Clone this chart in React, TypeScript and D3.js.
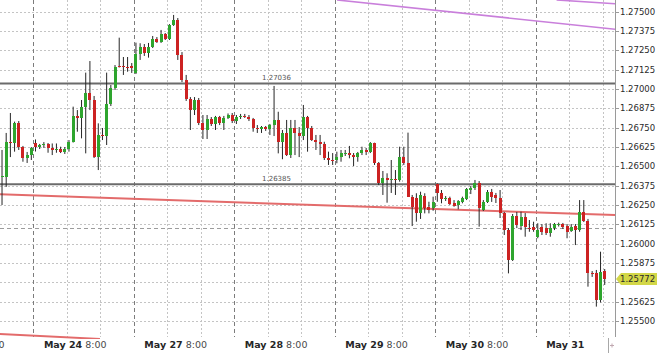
import React from "react";
import * as d3 from "d3";

// GBPUSD-style H1 candles. Bar index 0 = May 24 00:00; the first bars belong to May 23.
const firstBar = -8;

const opens = [
  1.26431, 1.26434, 1.26659, 1.26651, 1.26782, 1.26623, 1.26556, 1.26573,
  1.26648, 1.26623, 1.26635, 1.26645, 1.26621, 1.26606, 1.26615, 1.26595, 1.26610, 1.26659, 1.26826, 1.26811,
  1.26886, 1.26976, 1.26929, 1.26562, 1.26703, 1.26696, 1.26903, 1.27005, 1.27152, 1.27148, 1.27144, 1.27149,
  1.27102, 1.27225, 1.27274, 1.27235, 1.27274, 1.27323, 1.27306, 1.27354, 1.27323, 1.27414, 1.27446, 1.27220,
  1.27058, 1.26934, 1.26864, 1.26929, 1.26778, 1.26735, 1.26804, 1.26772, 1.26817, 1.26782, 1.26811, 1.26832,
  1.26793, 1.26817, 1.26826, 1.26822, 1.26804, 1.26746, 1.26740, 1.26753, 1.26742, 1.26767, 1.26800, 1.26659,
  1.26714, 1.26573, 1.26750, 1.26716, 1.26696, 1.26821, 1.26750, 1.26670, 1.26656, 1.26645, 1.26552, 1.26541,
  1.26541, 1.26562, 1.26584, 1.26588, 1.26573, 1.26562, 1.26584, 1.26606, 1.26595, 1.26649, 1.26520, 1.26390,
  1.26427, 1.26412, 1.26420, 1.26410, 1.26562, 1.26520, 1.26304, 1.26293, 1.26196, 1.26308, 1.26239, 1.26229,
  1.26384, 1.26326, 1.26287, 1.26293, 1.26261, 1.26250, 1.26271, 1.26287, 1.26347, 1.26357, 1.26390, 1.26218,
  1.26271, 1.26336, 1.26315, 1.26293, 1.26196, 1.26088, 1.25894, 1.26179, 1.26114, 1.26174, 1.26103, 1.26108,
  1.26045, 1.26108, 1.26101, 1.26071, 1.26099, 1.26124, 1.26127, 1.26114, 1.26085, 1.26114, 1.26088, 1.26207,
  1.26149, 1.25808, 1.25808, 1.25636, 1.25825,
];

const highs = [
  1.26606, 1.26716, 1.26845, 1.26789, 1.26793, 1.26632, 1.26593, 1.26625,
  1.26674, 1.26645, 1.26657, 1.26651, 1.26648, 1.26648, 1.26627, 1.26625, 1.26670, 1.26886, 1.26864, 1.26929,
  1.27106, 1.27181, 1.26955, 1.26778, 1.26748, 1.27106, 1.27026, 1.27155, 1.27332, 1.27207, 1.27207, 1.27168,
  1.27300, 1.27296, 1.27291, 1.27298, 1.27343, 1.27336, 1.27382, 1.27362, 1.27420, 1.27479, 1.27459, 1.27239,
  1.27091, 1.26948, 1.26948, 1.26942, 1.26832, 1.26832, 1.26819, 1.26826, 1.26826, 1.26826, 1.26842, 1.26845,
  1.26832, 1.26839, 1.26839, 1.26832, 1.26813, 1.26767, 1.26761, 1.26761, 1.26774, 1.27020, 1.26853, 1.26735,
  1.26800, 1.26800, 1.26800, 1.26754, 1.26897, 1.26826, 1.26761, 1.26703, 1.26703, 1.26659, 1.26595, 1.26586,
  1.26595, 1.26606, 1.26606, 1.26632, 1.26586, 1.26593, 1.26627, 1.26619, 1.26657, 1.26653, 1.26528, 1.26470,
  1.26455, 1.26541, 1.26476, 1.26627, 1.26627, 1.26718, 1.26315, 1.26326, 1.26336, 1.26326, 1.26271, 1.26304,
  1.26390, 1.26347, 1.26308, 1.26304, 1.26282, 1.26282, 1.26304, 1.26360, 1.26373, 1.26412, 1.26405, 1.26282,
  1.26347, 1.26354, 1.26328, 1.26347, 1.26205, 1.26101, 1.26192, 1.26205, 1.26207, 1.26198, 1.26153, 1.26142,
  1.26132, 1.26127, 1.26132, 1.26132, 1.26134, 1.26136, 1.26134, 1.26127, 1.26127, 1.26127, 1.26282, 1.26282,
  1.26160, 1.25823, 1.25830, 1.25948, 1.25836,
];

const lows = [
  1.26250, 1.26367, 1.26560, 1.26595, 1.26606, 1.26530, 1.26522, 1.26541,
  1.26596, 1.26612, 1.26619, 1.26588, 1.26573, 1.26588, 1.26586, 1.26580, 1.26595, 1.26654, 1.26724, 1.26681,
  1.26584, 1.26864, 1.26554, 1.26476, 1.26670, 1.26638, 1.26890, 1.26994, 1.27139, 1.27091, 1.27112, 1.27104,
  1.27097, 1.27188, 1.27214, 1.27203, 1.27265, 1.27298, 1.27298, 1.27317, 1.27317, 1.27408, 1.27188, 1.27045,
  1.26923, 1.26735, 1.26832, 1.26767, 1.26677, 1.26677, 1.26761, 1.26735, 1.26767, 1.26735, 1.26806, 1.26780,
  1.26774, 1.26806, 1.26813, 1.26793, 1.26724, 1.26716, 1.26716, 1.26729, 1.26703, 1.26696, 1.26584, 1.26546,
  1.26567, 1.26554, 1.26573, 1.26560, 1.26670, 1.26595, 1.26664, 1.26606, 1.26573, 1.26541, 1.26509, 1.26509,
  1.26520, 1.26530, 1.26567, 1.26552, 1.26502, 1.26530, 1.26573, 1.26573, 1.26586, 1.26509, 1.26379, 1.26315,
  1.26265, 1.26328, 1.26315, 1.26401, 1.26509, 1.26302, 1.26114, 1.26142, 1.26160, 1.26196, 1.26196, 1.26213,
  1.26271, 1.26261, 1.26276, 1.26250, 1.26239, 1.26222, 1.26261, 1.26282, 1.26321, 1.26347, 1.26110, 1.26211,
  1.26263, 1.26270, 1.26263, 1.26166, 1.26056, 1.25808, 1.25888, 1.26101, 1.26088, 1.26045, 1.26077, 1.26077,
  1.26035, 1.26056, 1.26056, 1.26045, 1.26088, 1.26111, 1.26095, 1.26035, 1.26076, 1.25991, 1.26077, 1.26140,
  1.25722, 1.25785, 1.25593, 1.25620, 1.25733,
];

const closes = [
  1.26438, 1.26659, 1.26651, 1.26782, 1.26623, 1.26556, 1.26573, 1.26619,
  1.26623, 1.26635, 1.26645, 1.26621, 1.26606, 1.26615, 1.26595, 1.26610, 1.26659, 1.26826, 1.26811, 1.26886,
  1.26976, 1.26929, 1.26562, 1.26703, 1.26696, 1.26903, 1.27005, 1.27144, 1.27148, 1.27144, 1.27142, 1.27134,
  1.27225, 1.27274, 1.27235, 1.27274, 1.27323, 1.27306, 1.27354, 1.27323, 1.27414, 1.27446, 1.27220, 1.27058,
  1.26934, 1.26864, 1.26929, 1.26778, 1.26735, 1.26804, 1.26772, 1.26817, 1.26782, 1.26811, 1.26832, 1.26793,
  1.26817, 1.26826, 1.26822, 1.26804, 1.26746, 1.26740, 1.26753, 1.26742, 1.26767, 1.26800, 1.26659, 1.26714,
  1.26573, 1.26750, 1.26716, 1.26696, 1.26821, 1.26750, 1.26670, 1.26656, 1.26645, 1.26552, 1.26541, 1.26538,
  1.26562, 1.26584, 1.26588, 1.26573, 1.26562, 1.26584, 1.26606, 1.26595, 1.26649, 1.26520, 1.26390, 1.26427,
  1.26412, 1.26420, 1.26410, 1.26562, 1.26520, 1.26304, 1.26239, 1.26196, 1.26315, 1.26229, 1.26218, 1.26271,
  1.26326, 1.26287, 1.26297, 1.26257, 1.26244, 1.26276, 1.26293, 1.26352, 1.26357, 1.26390, 1.26229, 1.26271,
  1.26336, 1.26304, 1.26293, 1.26196, 1.26088, 1.25894, 1.26179, 1.26121, 1.26174, 1.26110, 1.26095, 1.26088,
  1.26088, 1.26076, 1.26071, 1.26099, 1.26127, 1.26130, 1.26108, 1.26077, 1.26110, 1.26088, 1.26207, 1.26149,
  1.25808, 1.25802, 1.25636, 1.25819, 1.25772,
];

// Price axis ticks and labels
const priceTicks = d3.range(0, 17).map((i) => 1.255 + i * 0.00125);
const dayLabels = ["May 24", "May 27", "May 28", "May 29", "May 30", "May 31"];
const hourLabels = ["8:00", "8:00", "8:00", "8:00", "8:00", ""];
const prevHourLabel = "8:00";

// Horizontal levels and trend lines (bar index, price)
const levels = [1.27036, 1.26385];
const dashedLevel = 1.261;
const lastPrice = 1.25772;
const redChannel = [
  [{ bar: -8.5, price: 1.26319 }, { bar: 138.5, price: 1.26185 }],
  [{ bar: -8.5, price: 1.25416 }, { bar: 15.4, price: 1.25384 }],
];
const violetLines = [
  [{ bar: 72.05, price: 1.27576 }, { bar: 138.5, price: 1.27387 }],
  [{ bar: 124.5, price: 1.27576 }, { bar: 138.5, price: 1.27552 }],
];

const W = 660;
const H = 354;
const PLOT_R = 615;
const PLOT_B = 337;
const FONT = "'DejaVu Sans', Verdana, sans-serif";

export default function App() {
  const x = d3.scaleLinear().domain([0, 24]).range([35.5, 135.95]);
  const y = d3.scaleLinear().domain([1.255, 1.275]).range([321, 11.7]);

  const bars = opens.map((o, i) => ({
    n: firstBar + i,
    o,
    h: highs[i],
    l: lows[i],
    c: closes[i],
  }));

  const line = d3
    .line<{ bar: number; price: number }>()
    .x((d) => x(d.bar))
    .y((d) => y(d.price));

  // vertical grid every 8 hours, day starts dashed
  const vLines = d3.range(-1, 18).map((k) => ({
    xv: x(-0.5 + 8 * k),
    day: k % 3 === 0,
  }));

  const yLast = y(lastPrice);
  // the last-price tag hides the tick label it sits on
  const axisLabels = priceTicks.filter((p) => Math.abs(y(p) - yLast) > 8);

  return (
    <svg
      width={W}
      height={H}
      style={{ position: "absolute", left: 0, top: 0, background: "#fff" }}
      fontFamily={FONT}
    >
      <defs>
        <clipPath id="plot">
          <rect x={0} y={0} width={PLOT_R} height={339} />
        </clipPath>
        <clipPath id="page">
          <rect x={0} y={0} width={W} height={H} />
        </clipPath>
      </defs>
      <rect x={0} y={0} width={W} height={H} fill="#fff" />

      {/* grid */}
      <g shapeRendering="crispEdges">
        {priceTicks.map((p, i) => (
          <line
            key={"hg" + i}
            x1={0}
            x2={PLOT_R}
            y1={Math.round(y(p)) + 0.5}
            y2={Math.round(y(p)) + 0.5}
            stroke="#c4c4c4"
            strokeDasharray="2,2"
          />
        ))}
        {vLines
          .filter((v) => v.xv > 0 && v.xv < PLOT_R)
          .map((v, i) => (
            <line
              key={"vg" + i}
              x1={Math.round(v.xv) + 0.5}
              x2={Math.round(v.xv) + 0.5}
              y1={0}
              y2={PLOT_B}
              stroke={v.day ? "#7c7c7c" : "#c4c4c4"}
              strokeDasharray={v.day ? "4,3" : "2,2"}
            />
          ))}
      </g>

      <g clipPath="url(#plot)">
        {/* dashed level */}
        <line
          x1={0}
          x2={PLOT_R}
          y1={Math.round(y(dashedLevel)) + 0.5}
          y2={Math.round(y(dashedLevel)) + 0.5}
          stroke="#9c9c9c"
          strokeDasharray="4,3"
          shapeRendering="crispEdges"
        />
        {/* horizontal levels */}
        {levels.map((p, i) => (
          <g key={"lv" + i}>
            <line x1={0} x2={PLOT_R} y1={y(p)} y2={y(p)} stroke="#6b6b6b" strokeWidth={2} />
            <text x={262} y={y(p) - 3} fontSize={7} fill="#555">
              {p.toFixed(5)}
            </text>
          </g>
        ))}
        {/* trend channel */}
        {redChannel.map((seg, i) => (
          <path key={"rc" + i} d={line(seg) || ""} stroke="#e36b6b" strokeWidth={2} fill="none" />
        ))}
        {violetLines.map((seg, i) => (
          <path key={"vl" + i} d={line(seg) || ""} stroke="#c97fdb" strokeWidth={1.5} fill="none" />
        ))}

        {/* candles */}
        {bars.map((b) => {
          const cx = x(b.n);
          const up = b.c >= b.o;
          const top = Math.round(y(Math.max(b.o, b.c)));
          const bot = Math.round(y(Math.min(b.o, b.c)));
          const bx = Math.round(cx - 1.5);
          return (
            <g key={"b" + b.n}>
              <line x1={cx} x2={cx} y1={y(b.h)} y2={y(b.l)} stroke="#262626" strokeWidth={1} />
              <rect
                x={bx}
                y={top}
                width={3}
                height={Math.max(1, bot - top)}
                fill={up ? "#2ea52e" : "#cc2222"}
                shapeRendering="crispEdges"
              />
            </g>
          );
        })}
      </g>

      {/* right price axis */}
      <line x1={PLOT_R + 0.5} x2={PLOT_R + 0.5} y1={0} y2={PLOT_B} stroke="#9a9a9a" shapeRendering="crispEdges" />
      {priceTicks.map((p, i) => (
        <line
          key={"pk" + i}
          x1={PLOT_R}
          x2={PLOT_R + 4}
          y1={Math.round(y(p)) + 0.5}
          y2={Math.round(y(p)) + 0.5}
          stroke="#9a9a9a"
          shapeRendering="crispEdges"
        />
      ))}
      {axisLabels.map((p, i) => (
        <text key={"pt" + i} x={620} y={y(p) + 3} fontSize={8.5} fill="#2a2a2a">
          {p.toFixed(5)}
        </text>
      ))}

      {/* last price tag */}
      <path
        d={`M${PLOT_R + 1},${yLast} L${PLOT_R + 6},${yLast - 6} L657,${yLast - 6} L657,${yLast + 6} L${PLOT_R + 6},${yLast + 6} Z`}
        fill="#d3d747"
      />
      <text x={620} y={yLast + 3} fontSize={8.5} fill="#2a2a2a">
        {lastPrice.toFixed(5)}
      </text>

      {/* time axis: the previous day's label runs off the left edge */}
      <g clipPath="url(#page)">
        <text x={4.5} y={348} fontSize={9.5} fill="#444" textAnchor="end">
          {prevHourLabel}
        </text>
      </g>
      {dayLabels.map((d, i) => (
        <text key={"dl" + i} x={x(-0.5 + 24 * i) + 10.5} y={348} fontSize={9.5}>
          <tspan fontWeight="bold" fill="#262626">
            {d}
          </tspan>
          {hourLabels[i] ? (
            <tspan fill="#4a4a4a" dx={3}>
              {hourLabels[i]}
            </tspan>
          ) : null}
        </text>
      ))}

      {/* current bar marker */}
      <line x1={608.5} x2={608.5} y1={338} y2={353} stroke="#a8a8a8" shapeRendering="crispEdges" />
      <line x1={610} x2={614} y1={345.5} y2={345.5} stroke="#c0a8b0" />
      <line x1={612} x2={612} y1={343.5} y2={347.5} stroke="#c0a8b0" />
    </svg>
  );
}
